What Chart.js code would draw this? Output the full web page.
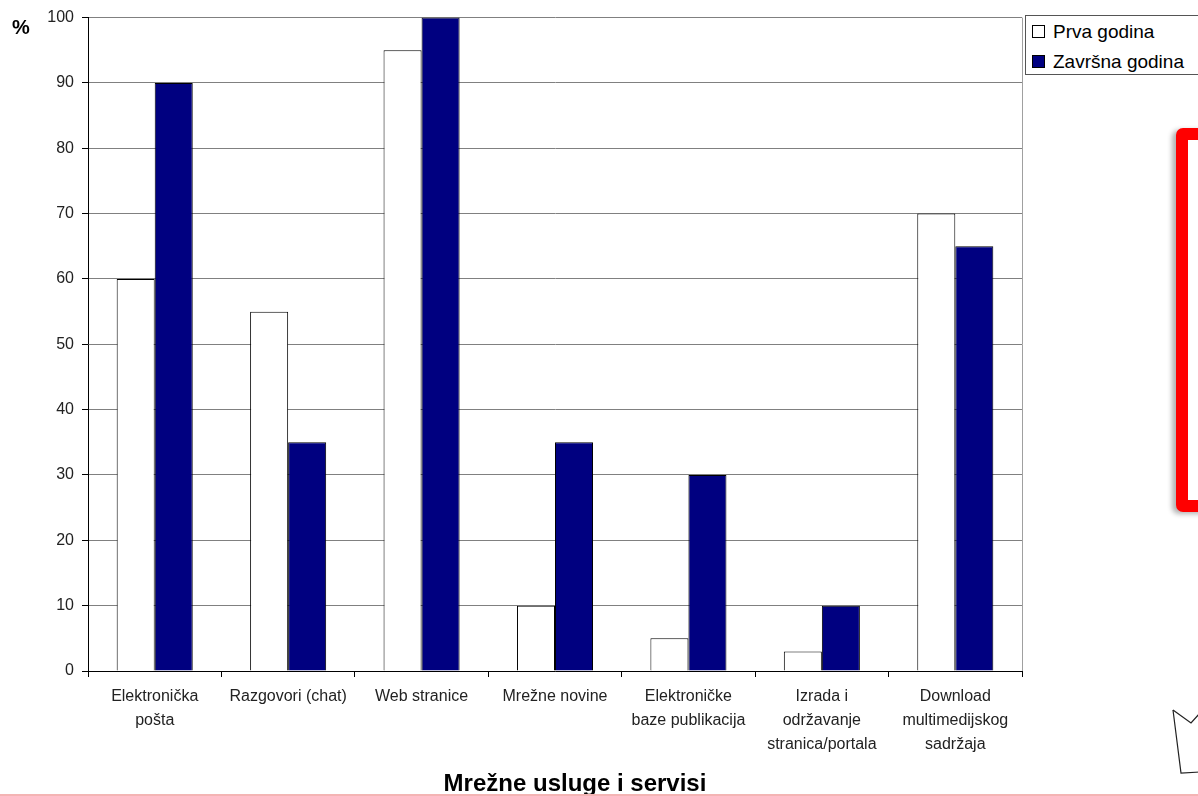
<!DOCTYPE html>
<html>
<head>
<meta charset="utf-8">
<script src="https://cdn.jsdelivr.net/npm/chart.js@4.4.1/dist/chart.umd.min.js"></script>
<style>
  html, body { margin: 0; padding: 0; background: #fff; overflow: hidden; }
  body { width: 1198px; height: 796px; position: relative; font-family: "Liberation Sans", Arial, sans-serif; }
  #wrap { position: absolute; left: 0; top: 0; width: 1198px; height: 796px; }
  #pct { position: absolute; left: 12px; top: 16px; font-size: 20px; font-weight: bold; color: #000; }
  #xtitle { position: absolute; left: 0; width: 1150px; top: 769px; text-align: center; font-size: 24px; font-weight: bold; color: #000; }
  #legend { position: absolute; left: 1025px; top: 15px; width: 220px; height: 58px; border: 1px solid #555; background: #fff; }
  .item { position: absolute; left: 6px; font-size: 19px; color: #000; white-space: nowrap; line-height: 22px; }
  .sw { display: inline-block; width: 11px; height: 11px; border: 1px solid #000; margin-right: 8px; vertical-align: 0px; }
  #redbox { position: absolute; left: 1176px; top: 128px; width: 60px; height: 360px; border: 12px solid #f00; border-radius: 7px; box-shadow: -4px 2px 5px rgba(0,0,0,0.3); background: #fff; }
  #botline { position: absolute; left: 0; top: 794px; width: 1198px; height: 2px; background: #f4b4b4; }
  #shape { position: absolute; left: 1160px; top: 700px; }
</style>
</head>
<body>
<div id="wrap"><canvas id="myChart" width="1198" height="796"></canvas></div>
<div id="pct">%</div>
<div id="xtitle">Mrežne usluge i servisi</div>
<div id="legend">
  <div class="item" style="top:5px"><span class="sw" style="background:#fff"></span>Prva godina</div>
  <div class="item" style="top:35px"><span class="sw" style="background:#000080"></span>Završna godina</div>
</div>
<div id="redbox"></div>
<svg id="shape" width="40" height="80">
  <polyline points="13,10 31,23 40,13" fill="none" stroke="#222" stroke-width="1.2"/>
  <polyline points="13,10 21,73 40,72" fill="none" stroke="#222" stroke-width="1.2"/>
</svg>
<div id="botline"></div>
<script>
// kategorije i vrijednosti (%)
const categories = [
    ['Elektronička', 'pošta'],
    'Razgovori (chat)',
    'Web stranice',
    'Mrežne novine',
    ['Elektroničke', 'baze publikacija'],
    ['Izrada i', 'održavanje', 'stranica/portala'],
    ['Download', 'multimedijskog', 'sadržaja']
];
const prvaGodina = [60, 55, 95, 10, 5, 3, 70];
const zavrsnaGodina = [90, 35, 100, 35, 30, 10, 65];
const yTicks = [0, 10, 20, 30, 40, 50, 60, 70, 80, 90, 100];

// desni rub podrucja grafa
const rightBorder = {
    id: 'rightBorder',
    afterDraw(chart) {
        const a = chart.chartArea;
        const ctx = chart.ctx;
        ctx.save();
        ctx.strokeStyle = '#a0a0a0';
        ctx.lineWidth = 1;
        ctx.beginPath();
        ctx.moveTo(Math.round(a.right) + 0.5, a.top);
        ctx.lineTo(Math.round(a.right) + 0.5, a.bottom);
        ctx.stroke();
        ctx.restore();
    }
};

const ctx = document.getElementById('myChart').getContext('2d');
new Chart(ctx, {
    type: 'bar',
    data: {
        labels: categories,
        datasets: [{
            label: 'Prva godina',
            data: prvaGodina,
            backgroundColor: '#ffffff',
            borderColor: '#000000',
            borderWidth: 1
        }, {
            label: 'Završna godina',
            data: zavrsnaGodina,
            backgroundColor: '#000080',
            borderColor: '#000000',
            borderWidth: 1
        }]
    },
    options: {
        responsive: false,
        animation: false,
        devicePixelRatio: 1,
        categoryPercentage: 0.57,
        barPercentage: 1.0,
        layout: { padding: { top: 16, right: 176, left: 0, bottom: 0 } },
        plugins: {
            legend: { display: false },
            tooltip: { enabled: false }
        },
        scales: {
            x: {
                offset: true,
                afterFit: (s) => { s.height = 125; },
                grid: { offset: true, drawOnChartArea: false, tickLength: 6, tickColor: '#000' },
                border: { color: '#000', width: 1 },
                ticks: {
                    maxRotation: 0,
                    autoSkip: false,
                    padding: 8,
                    color: '#222',
                    font: { family: '"Liberation Sans", Arial, sans-serif', size: 16, lineHeight: 1.5 }
                }
            },
            y: {
                min: 0,
                max: 100,
                afterFit: (s) => { s.width = 88; },
                afterBuildTicks: (s) => { s.ticks = yTicks.map(v => ({ value: v })); },
                grid: { color: '#808080', tickLength: 6, tickColor: '#000' },
                border: { color: '#000', width: 1 },
                ticks: {
                    padding: 8,
                    color: '#222',
                    font: { family: '"Liberation Sans", Arial, sans-serif', size: 16 }
                }
            }
        }
    },
    plugins: [rightBorder]
});
</script>
</body>
</html>
